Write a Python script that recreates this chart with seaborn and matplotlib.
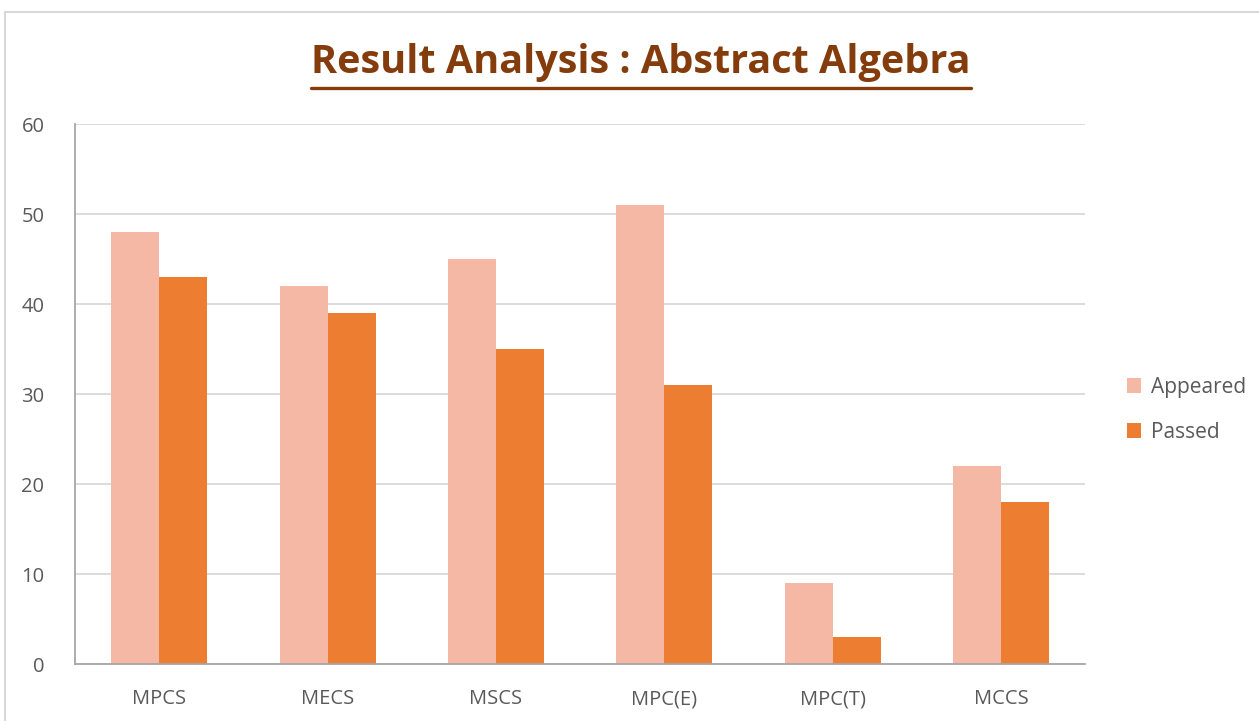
import numpy as np
import pandas as pd
import matplotlib
matplotlib.use('Agg')
import matplotlib.pyplot as plt
import seaborn as sns
from matplotlib.patches import Rectangle, Patch
from matplotlib.lines import Line2D

# Data
COURSES = ['MPCS', 'MECS', 'MSCS', 'MPC(E)', 'MPC(T)', 'MCCS']
APPEARED = [48, 42, 45, 51, 9, 22]
PASSED = [43, 39, 35, 31, 3, 18]
SERIES = ['Appeared', 'Passed']
PALETTE = {'Appeared': '#F4B8A4', 'Passed': '#ED7D31'}
Y_TICKS = [0, 10, 20, 30, 40, 50, 60]

TEXT_COLOR = '#595959'
GRID_COLOR = '#D9D9D9'
TITLE_COLOR = '#843C0C'

df = pd.DataFrame({
    'course': COURSES * 2,
    'count': APPEARED + PASSED,
    'series': ['Appeared'] * len(COURSES) + ['Passed'] * len(COURSES),
})

sns.set_theme(style='white')
plt.rcParams['font.family'] = ['Open Sans', 'DejaVu Sans']

fig = plt.figure(figsize=(12.59, 7.21), dpi=100)
ax = fig.add_axes([0.0596, 0.079, 0.8024, 0.749])

sns.barplot(data=df, x='course', y='count', hue='series', order=COURSES,
            hue_order=SERIES, palette=PALETTE, width=0.57, gap=0,
            saturation=1, linewidth=0, ax=ax, zorder=2)

ax.set_ylim(0, 60)
ax.set_yticks(Y_TICKS)
ax.set_xlim(-0.5, len(COURSES) - 0.5)
ax.yaxis.grid(True, color=GRID_COLOR, linewidth=1.3, zorder=0)
ax.set_axisbelow(True)
ax.set_xlabel('')
ax.set_ylabel('')
for side in ['top', 'right']:
    ax.spines[side].set_visible(False)
ax.spines['left'].set_color('#A6A6A6')
ax.spines['bottom'].set_color('#A6A6A6')
ax.spines['left'].set_linewidth(1.3)
ax.spines['bottom'].set_linewidth(1.3)
ax.tick_params(axis='both', length=0, labelsize=14.5, colors=TEXT_COLOR)
ax.tick_params(axis='x', pad=18)
ax.tick_params(axis='y', pad=22)

if ax.get_legend() is not None:
    ax.get_legend().remove()

handles = [Patch(facecolor=PALETTE[s], edgecolor='none', label=s) for s in SERIES]
fig.legend(handles=handles, loc='center left', bbox_to_anchor=(0.88, 0.432),
           frameon=False, fontsize=15, labelcolor=TEXT_COLOR,
           handlelength=0.7, handleheight=0.7, handletextpad=0.45,
           labelspacing=1.15)

# title with underline
title = fig.text(0.509, 0.913, 'Result Analysis : Abstract Algebra',
                 ha='center', va='center', fontsize=28.5, fontweight='bold',
                 color=TITLE_COLOR)
fig.canvas.draw()
bb = title.get_window_extent().transformed(fig.transFigure.inverted())
fig.add_artist(Line2D([bb.x0, bb.x1], [0.878, 0.878], transform=fig.transFigure,
                      color=TITLE_COLOR, linewidth=2.4))

# chart border
fig.add_artist(Rectangle((5 / 1259, -0.05), 1.2, 1 - 12 / 721 + 0.05,
                         transform=fig.transFigure, fill=False,
                         edgecolor='#D9D9D9', linewidth=1.5))

fig.savefig('out.png', dpi=100)
plt.close(fig)
